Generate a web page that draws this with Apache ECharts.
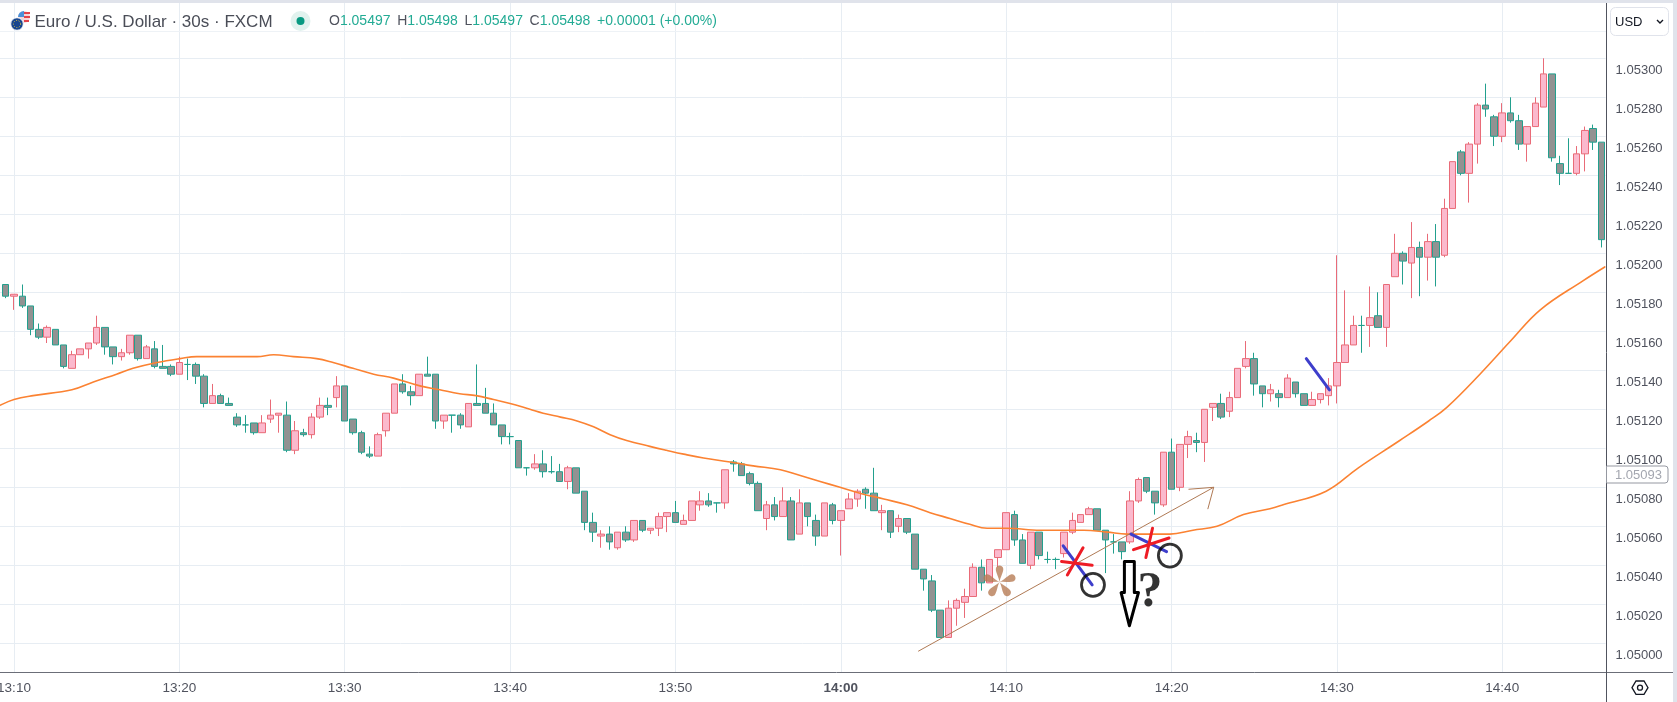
<!DOCTYPE html>
<html><head><meta charset="utf-8">
<style>html,body{margin:0;padding:0;background:#fff}#c{width:1677px;height:702px}</style>
<script src="https://cdn.jsdelivr.net/npm/echarts@6/dist/echarts.min.js"></script>
</head><body><div id="c"></div>
<script>
// candles: first = 13:09:30 bar, one bar every 30 s
const opens=[1.05184,1.05178,1.05178,1.05173,1.05161,1.05157,1.05161,1.05153,1.05141,1.05148,1.05151,1.05154,1.05162,1.05152,1.05147,1.05149,1.05158,1.05146,1.05151,1.05142,1.05142,1.05138,1.05143,1.05143,1.05137,1.05123,1.05127,1.05123,1.05116,1.05112,1.05113,1.05108,1.05115,1.05117,1.05117,1.05099,1.05108,1.05107,1.05116,1.05122,1.05126,1.05132,1.05115,1.05108,1.05097,1.05096,1.05109,1.05118,1.05133,1.05129,1.05127,
1.05138,1.05138,1.05114,1.05117,1.05117,1.05111,1.05123,1.05123,1.05118,1.05112,1.05106,1.05104,1.05090,1.05090,1.05092,1.05088,1.05088,1.05083,1.05090,1.05078,1.05062,1.05055,1.05056,1.05049,1.05057,1.05053,1.05063,1.05058,1.05059,1.05065,1.05067,1.05061,1.05063,1.05071,1.05073,1.05072,1.05072,1.05093,1.05092,1.05087,1.05082,1.05064,1.05071,1.05065,1.05073,1.05056,1.05072,1.05063,1.05055,1.05071,1.05063,
1.05069,1.05074,1.05079,1.05077,1.05067,1.05068,1.05060,1.05064,1.05056,1.05038,1.05032,1.05017,1.05003,1.05018,1.05021,1.05024,1.05039,1.05031,1.05044,1.05048,1.05066,1.05053,1.05040,1.05057,1.05043,1.05043,1.05046,1.05057,1.05062,1.05066,1.05069,1.05058,1.05052,1.05052,1.05052,1.05073,1.05085,1.05078,1.05071,1.05098,1.05080,1.05102,1.05104,1.05103,1.05121,1.05123,1.05119,1.05126,1.05142,1.05146,1.05132,1.05128,1.05128,1.05126,1.05134,1.05128,1.05122,1.05125,1.05127,1.05132,1.05144,1.05153,1.05163,1.05163,1.05168,1.05162,1.05188,1.05200,1.05195,1.05203,1.05198,1.05206,1.05199,1.05223,1.05252,1.05241,1.05256,1.05276,1.05270,1.05260,1.05272,1.05268,1.05256,1.05265,1.05275,1.05292,1.05246,1.05241,1.05241,1.05251,1.05264,1.05257];
const closes=[1.05178,1.05179,1.05173,1.05161,1.05157,1.05162,1.05153,1.05142,1.05148,1.05151,1.05154,1.05162,1.05152,1.05147,1.05149,1.05158,1.05146,1.05152,1.05142,1.05141,1.05138,1.05144,1.05143,1.05137,1.05123,1.05127,1.05123,1.05122,1.05112,1.05112,1.05108,1.05113,1.05117,1.05118,1.05099,1.05109,1.05107,1.05116,1.05122,1.05121,1.05132,1.05114,1.05108,1.05098,1.05096,1.05107,1.05118,1.05133,1.05129,1.05127,1.05138,
1.05137,1.05114,1.05117,1.05117,1.05112,1.05123,1.05122,1.05118,1.05112,1.05106,1.05106,1.05090,1.05090,1.05092,1.05088,1.05088,1.05083,1.05090,1.05077,1.05062,1.05057,1.05056,1.05052,1.05057,1.05053,1.05063,1.05058,1.05059,1.05065,1.05067,1.05062,1.05063,1.05073,1.05073,1.05071,1.05072,1.05089,1.05092,1.05086,1.05082,1.05068,1.05071,1.05065,1.05073,1.05053,1.05072,1.05065,1.05055,1.05072,1.05063,1.05068,
1.05074,1.05078,1.05077,1.05068,1.05068,1.05057,1.05064,1.05057,1.05038,1.05033,1.05017,1.05003,1.05018,1.05022,1.05024,1.05039,1.05031,1.05043,1.05048,1.05067,1.05053,1.05041,1.05057,1.05045,1.05043,1.05043,1.05057,1.05063,1.05066,1.05069,1.05058,1.05053,1.05052,1.05047,1.05073,1.05084,1.05078,1.05072,1.05098,1.05079,1.05102,1.05106,1.05103,1.05120,1.05123,1.05116,1.05126,1.05141,1.05146,1.05133,1.05128,1.05130,1.05126,1.05136,1.05128,1.05122,1.05125,1.05128,1.05132,1.05144,1.05153,1.05163,1.05163,1.05167,1.05162,1.05184,1.05200,1.05196,1.05203,1.05198,1.05206,1.05198,1.05223,1.05247,1.05241,1.05256,1.05276,1.05274,1.05260,1.05272,1.05268,1.05256,1.05265,1.05277,1.05292,1.05249,1.05241,1.05241,1.05251,1.05263,1.05257,1.05207];
const lows=[1.05177,1.05171,1.05172,1.05158,1.05156,1.05154,1.05153,1.05141,1.05141,1.05148,1.05146,1.05153,1.05148,1.05143,1.05145,1.05148,1.05145,1.05146,1.05141,1.05141,1.05137,1.05138,1.05135,1.05133,1.05121,1.05123,1.05123,1.05122,1.05111,1.05108,1.05107,1.05108,1.05113,1.05108,1.05098,1.05097,1.05106,1.05105,1.05115,1.05117,1.05121,1.05114,1.05107,1.05097,1.05095,1.05096,1.05106,1.05118,1.05128,1.05122,1.05127,
1.05137,1.05110,1.05110,1.05108,1.05110,1.05111,1.05122,1.05118,1.05112,1.05102,1.05102,1.05090,1.05086,1.05089,1.05085,1.05087,1.05083,1.05079,1.05077,1.05058,1.05052,1.05049,1.05048,1.05048,1.05052,1.05052,1.05057,1.05056,1.05055,1.05057,1.05062,1.05061,1.05063,1.05068,1.05070,1.05067,1.05069,1.05088,1.05086,1.05081,1.05068,1.05058,1.05063,1.05065,1.05053,1.05056,1.05060,1.05050,1.05055,1.05061,1.05045,
1.05069,1.05070,1.05069,1.05068,1.05058,1.05054,1.05057,1.05056,1.05038,1.05027,1.05016,1.05003,1.05003,1.05009,1.05013,1.05024,1.05027,1.05031,1.05039,1.05048,1.05050,1.05041,1.05038,1.05043,1.05041,1.05038,1.05044,1.05056,1.05062,1.05066,1.05058,1.05036,1.05046,1.05043,1.05051,1.05072,1.05077,1.05066,1.05070,1.05079,1.05078,1.05095,1.05098,1.05093,1.05114,1.05115,1.05116,1.05126,1.05141,1.05127,1.05121,1.05124,1.05121,1.05126,1.05126,1.05122,1.05122,1.05123,1.05122,1.05123,1.05144,1.05153,1.05149,1.05152,1.05162,1.05152,1.05188,1.05184,1.05177,1.05178,1.05186,1.05183,1.05198,1.05223,1.05240,1.05226,1.05246,1.05270,1.05255,1.05257,1.05267,1.05253,1.05247,1.05265,1.05275,1.05247,1.05235,1.05241,1.05240,1.05242,1.05253,1.05203];
const highs=[1.05184,1.05179,1.05184,1.05173,1.05164,1.05163,1.05161,1.05153,1.05150,1.05151,1.05154,1.05168,1.05162,1.05152,1.05151,1.05158,1.05158,1.05153,1.05155,1.05153,1.05143,1.05147,1.05146,1.05144,1.05138,1.05133,1.05128,1.05126,1.05118,1.05117,1.05113,1.05117,1.05125,1.05118,1.05124,1.05114,1.05110,1.05118,1.05126,1.05126,1.05137,1.05132,1.05115,1.05109,1.05101,1.05108,1.05118,1.05133,1.05138,1.05132,1.05138,
1.05147,1.05138,1.05117,1.05117,1.05118,1.05123,1.05143,1.05131,1.05123,1.05112,1.05108,1.05104,1.05090,1.05097,1.05099,1.05096,1.05092,1.05091,1.05090,1.05078,1.05067,1.05058,1.05060,1.05057,1.05060,1.05063,1.05063,1.05059,1.05067,1.05067,1.05073,1.05066,1.05073,1.05078,1.05077,1.05072,1.05089,1.05094,1.05093,1.05088,1.05083,1.05073,1.05075,1.05080,1.05075,1.05079,1.05072,1.05066,1.05072,1.05072,1.05068,
1.05077,1.05079,1.05080,1.05090,1.05071,1.05068,1.05066,1.05064,1.05056,1.05038,1.05035,1.05017,1.05022,1.05023,1.05028,1.05041,1.05043,1.05043,1.05048,1.05067,1.05068,1.05056,1.05057,1.05057,1.05047,1.05044,1.05057,1.05067,1.05066,1.05070,1.05069,1.05058,1.05056,1.05052,1.05078,1.05085,1.05085,1.05078,1.05098,1.05105,1.05102,1.05109,1.05108,1.05120,1.05123,1.05128,1.05129,1.05141,1.05155,1.05149,1.05132,1.05133,1.05130,1.05138,1.05134,1.05128,1.05129,1.05128,1.05136,1.05199,1.05181,1.05168,1.05168,1.05183,1.05180,1.05184,1.05210,1.05201,1.05216,1.05206,1.05210,1.05215,1.05228,1.05247,1.05253,1.05257,1.05277,1.05287,1.05271,1.05277,1.05280,1.05271,1.05265,1.05280,1.05300,1.05292,1.05250,1.05259,1.05255,1.05265,1.05266,1.05257];

// 50-bar average, sampled as [bar index, price]; bar 0 = 13:10
const movingAverage=[[-2.5,1.05120],[-1.7,1.05122],[0,1.05125],[2.3,1.05127],[7,1.05130],[9.6,1.05134],[12.4,1.05138],[14.4,1.05141],[17.3,1.05144],[20.1,1.05146],[22.1,1.05147],[24.1,1.05147],[27.3,1.05147],[29.4,1.05147],[31.4,1.05148],[33.8,1.05147],[36.6,1.05146],[38.6,1.05144],[41,1.05141],[43.5,1.05138],[45.9,1.05136],[49.1,1.05132],[51.5,1.05130],[53.9,1.05128],[55.9,1.05127],[58,1.05125],[60,1.05123],[62.4,1.05120],[64,1.05118],[66.1,1.05116],[68.1,1.05114],[70.1,1.05111],[72.1,1.05107],[74.1,1.05104],[76.9,1.05101],[78.9,1.05099],[81,1.05097],[83.4,1.05095],[86.6,1.05093],[89.4,1.05091],[92.7,1.05089],[95.1,1.05086],[97.5,1.05083],[99.9,1.05080],[102.3,1.05077],[105.2,1.05074],[108,1.05071],[110.8,1.05067],[113.2,1.05064],[115.6,1.05061],[117.7,1.05059],[120.1,1.05059],[124.1,1.05058],[126.5,1.05058],[129.4,1.05058],[132.2,1.05057],[134.6,1.05056],[137,1.05056],[139.8,1.05056],[142.6,1.05058],[145.5,1.05060],[148.7,1.05066],[151.9,1.05069],[153.5,1.05071],[158.7,1.05078],[162.6,1.05090],[167.6,1.05104],[171.1,1.05114],[173.3,1.05121],[177.3,1.05138],[181,1.05155],[184.6,1.05171],[189.8,1.05186],[192.4,1.05193]];

// hand-drawn marks, as [bar index, price]
const trendLine=[[109.4,1.04996],[145.1,1.05080]];
const arrowHead=[[142.1,1.05079],[145.1,1.05080],[144.4,1.05069]];
const redStrokes=[[[126.7,1.05042],[130.4,1.05040]],[[127.4,1.05035],[129.3,1.05049]],[[135.4,1.05048],[139.7,1.05054]],[[136.9,1.05044],[137.7,1.05059]]];
const blueStrokes=[[[126.9,1.05050],[130.4,1.05030]],[[135.1,1.05056],[139.4,1.05047]],[[156.3,1.05146],[159.1,1.05130]]];
const circleMarks=[[130.5,1.05030],[139.8,1.05045]];
const downArrow=[[134.3,1.05042],[135.5,1.05042],[135.5,1.05026],[136,1.05026],[134.9,1.05009],[133.9,1.05026],[134.3,1.05026],[134.3,1.05042]];
const questionMark=[[137.4,1.05026]];
const asteriskMark=[[119.2,1.05032]];

const timeTicks=['13:10','13:20','13:30','13:40','13:50','14:00','14:10','14:20','14:30','14:40'];
const BARS_PER_TICK=20;
const lastPrice='1.05093';

const FONT='"Liberation Sans",Arial,sans-serif';
const categories=['']; // one empty bar so the plot reaches the left edge
for(let i=0;i<opens.length;i++){const t=13*3600+9*60+30+i*30;
  categories.push(String(Math.floor(t/3600)).padStart(2,'0')+':'+String(Math.floor(t%3600/60)).padStart(2,'0')+':'+String(t%60).padStart(2,'0'));}
const candleData=['-'].concat(opens.map((o,i)=>[o,closes[i],lows[i],highs[i]]));

// five rounded petals for the hand-placed asterisk glyph
function petalPath(){let d='';for(let k=0;k<5;k++){const a=k*2*Math.PI/5,c=Math.cos(a),s=Math.sin(a);
  const p=(x,y)=>(x*c-y*s).toFixed(2)+' '+(x*s+y*c).toFixed(2);
  d+='M'+p(0,0)+'C'+p(-0.6,-5)+' '+p(-4,-10)+' '+p(-4,-14)+'C'+p(-4,-19)+' '+p(4,-19)+' '+p(4,-14)+'C'+p(4,-10)+' '+p(0.6,-5)+' '+p(0,0)+'Z';}
  return 'path://'+d;}

const mainX=1; const mainY=0;
function stroke(data,color,width,z,smooth){return {type:'line',xAxisIndex:mainX,yAxisIndex:mainY,data,symbol:'none',silent:true,z:z||6,animation:false,clip:false,smooth:smooth||false,
  lineStyle:{color,width,cap:'round',join:'round'}};}

const series=[
 {type:'candlestick',xAxisIndex:0,yAxisIndex:0,data:candleData,barWidth:7,z:3,animation:false,clip:false,
  itemStyle:{color:'#fbb9cd',color0:'#929292',borderColor:'#e96b78',borderColor0:'#22a08e',borderColorDoji:'#22a08e',borderWidth:1}},
 stroke(movingAverage,'#fb8232',1.6,4,0.4),
 stroke(trendLine,'#b07a55',1,5),
 stroke(arrowHead,'#b07a55',1,5),
 stroke(downArrow,'#000000',3,7),
 ...blueStrokes.map(s=>stroke(s,'#3e3ecb',3,6)),
 ...redStrokes.map(s=>stroke(s,'#ee1c25',3,7)),
 {type:'scatter',xAxisIndex:mainX,yAxisIndex:mainY,data:circleMarks,symbol:'circle',symbolSize:23,z:8,silent:true,animation:false,
  itemStyle:{color:'rgba(0,0,0,0)',borderColor:'#000',borderWidth:2.8}},
 {type:'scatter',xAxisIndex:mainX,yAxisIndex:mainY,data:questionMark,symbolSize:1,z:8,silent:true,animation:false,itemStyle:{color:'rgba(0,0,0,0)'},
  label:{show:true,position:'inside',formatter:'?',fontFamily:'"Liberation Serif",serif',fontWeight:'bold',fontSize:50,color:'#000'}},
 {type:'scatter',xAxisIndex:mainX,yAxisIndex:mainY,data:asteriskMark,symbol:petalPath(),symbolSize:32,symbolKeepAspect:true,z:8,silent:true,animation:false,
  itemStyle:{color:'#b67c55'}}
];

const option={
 backgroundColor:'#fff',animation:false,
 grid:[
  {left:-6.67,top:58.3,width:1612.27,height:624,containLabel:false,outerBoundsMode:'none'},
  {left:14,top:3,width:1591.6,height:669.3,containLabel:false,outerBoundsMode:'none'}
 ],
 xAxis:[
  {gridIndex:0,type:'category',data:categories,show:false,boundaryGap:true},
  {gridIndex:0,type:'value',min:-2.5,max:192.5,show:false},
  {gridIndex:1,type:'value',min:0,max:192.5,interval:BARS_PER_TICK,position:'bottom',
   axisLine:{show:false},axisTick:{show:false},
   splitLine:{show:true,showMaxLine:false,lineStyle:{color:'#e7edf3',width:1}},
   axisLabel:{show:true,margin:9,showMaxLabel:false,fontFamily:FONT,fontSize:13.5,color:'#50535e',hideOverlap:false,
    formatter:v=>{const t=timeTicks[Math.round(v/BARS_PER_TICK)]||'';return t==='14:00'?'{b|'+t+'}':t;},
    rich:{b:{fontFamily:FONT,fontSize:13.5,fontWeight:'bold',color:'#50535e'}}}}
 ],
 yAxis:[
  {gridIndex:0,type:'value',position:'right',min:1.0498,max:1.053,interval:0.0002,
   axisLine:{show:false},axisTick:{show:false},
   splitLine:{show:true,showMinLine:false,lineStyle:{color:'#e7edf3',width:1}},
   axisLabel:{show:true,inside:false,margin:10,align:'left',verticalAlign:'top',lineHeight:25,showMinLabel:false,showMaxLabel:true,fontFamily:FONT,fontSize:13,color:'#50535e',
    formatter:v=>v.toFixed(5)}},
  {gridIndex:1,type:'value',min:0,max:1,show:false}
 ],
 series,
 graphic:{elements:[
  {type:'rect',shape:{x:0,y:0,width:1677,height:3},style:{fill:'#e0e3eb'},z:50,silent:true},
  {type:'rect',shape:{x:1673,y:0,width:4,height:702},style:{fill:'#e0e3eb'},z:50,silent:true},
  {type:'line',shape:{x1:0,y1:31.5,x2:1606,y2:31.5},style:{stroke:'#eef2f6',lineWidth:1},z:1,silent:true},
  {type:'line',shape:{x1:0,y1:672.5,x2:1673,y2:672.5},style:{stroke:'#6b6e78',lineWidth:1},z:50,silent:true},
  {type:'line',shape:{x1:1606.5,y1:3,x2:1606.5,y2:702},style:{stroke:'#50535e',lineWidth:1},z:50,silent:true},
  // pair icon
  {type:'circle',shape:{cx:24,cy:17,r:6},style:{fill:'#f4d6d9'},z:50,silent:true},
  {type:'rect',shape:{x:24,y:12,width:6,height:2},style:{fill:'#e2434b'},z:51,silent:true},
  {type:'rect',shape:{x:24,y:16,width:6,height:2},style:{fill:'#e2434b'},z:51,silent:true},
  {type:'rect',shape:{x:24,y:20,width:5,height:2},style:{fill:'#e2434b'},z:51,silent:true},
  {type:'sector',shape:{cx:24,cy:17,r:6,r0:0,startAngle:Math.PI,endAngle:Math.PI*1.5},style:{fill:'#4a90d9'},z:51,silent:true},
  {type:'circle',shape:{cx:17,cy:24,r:6.3},style:{fill:'#17468f',stroke:'#fff',lineWidth:1},z:52,silent:true},
  {type:'circle',shape:{cx:17,cy:24,r:3.6},style:{fill:'none',stroke:'#e9c93a',lineWidth:1,lineDash:[1,1.6]},z:53,silent:true},
  // title and values
  {type:'text',style:{x:34.5,y:22,text:'Euro / U.S. Dollar · 30s · FXCM',font:'17px '+FONT,fill:'#4a4d57',verticalAlign:'middle',align:'left'},z:50,silent:true},
  {type:'circle',shape:{cx:300.5,cy:21,r:10},style:{fill:'#e1f2ee'},z:50,silent:true},
  {type:'circle',shape:{cx:300.5,cy:21,r:4},style:{fill:'#089981'},z:51,silent:true},
  {type:'text',style:{x:329,y:21,verticalAlign:'middle',align:'left',
    text:'{k|O}{v|1.05497}  {k|H}{v|1.05498}  {k|L}{v|1.05497}  {k|C}{v|1.05498}  {v|+0.00001 (+0.00%)}',
    rich:{k:{fontFamily:FONT,fontSize:14,fill:'#50535e'},v:{fontFamily:FONT,fontSize:14,fill:'#22ab94'}}},z:50,silent:true},
  // currency selector
  {type:'rect',shape:{x:1610.5,y:7.5,width:58,height:28,r:5},style:{fill:'#fff',stroke:'#e0e3eb',lineWidth:1},z:51,silent:true},
  {type:'text',style:{x:1615,y:22,text:'USD',font:'13px '+FONT,fill:'#131722',verticalAlign:'middle',align:'left'},z:52,silent:true},
  {type:'polyline',shape:{points:[[1657,20],[1660,23],[1663,20]]},style:{fill:'none',stroke:'#131722',lineWidth:1.4},z:52,silent:true},
  // last price tag
  {type:'rect',shape:{x:1606.5,y:466,width:61.5,height:17,r:[0,3,3,0]},style:{fill:'#fff',stroke:'#9598a1',lineWidth:1},z:60,silent:true},
  {type:'text',style:{x:1615,y:475,text:lastPrice,font:'13px '+FONT,fill:'#a3a6af',verticalAlign:'middle',align:'left'},z:61,silent:true},
  // settings glyph
  {type:'polygon',shape:{points:[[1632,687.7],[1636,681],[1644,681],[1648,687.7],[1644,694.4],[1636,694.4]]},style:{fill:'#fff',stroke:'#131722',lineWidth:1.3},z:51,silent:true},
  {type:'circle',shape:{cx:1640,cy:687.7,r:2.5},style:{fill:'#fff',stroke:'#131722',lineWidth:1.3},z:52,silent:true}
 ]}
};
const chart=echarts.init(document.getElementById('c'),null,{renderer:'canvas'});
chart.setOption(option);
</script></body></html>
